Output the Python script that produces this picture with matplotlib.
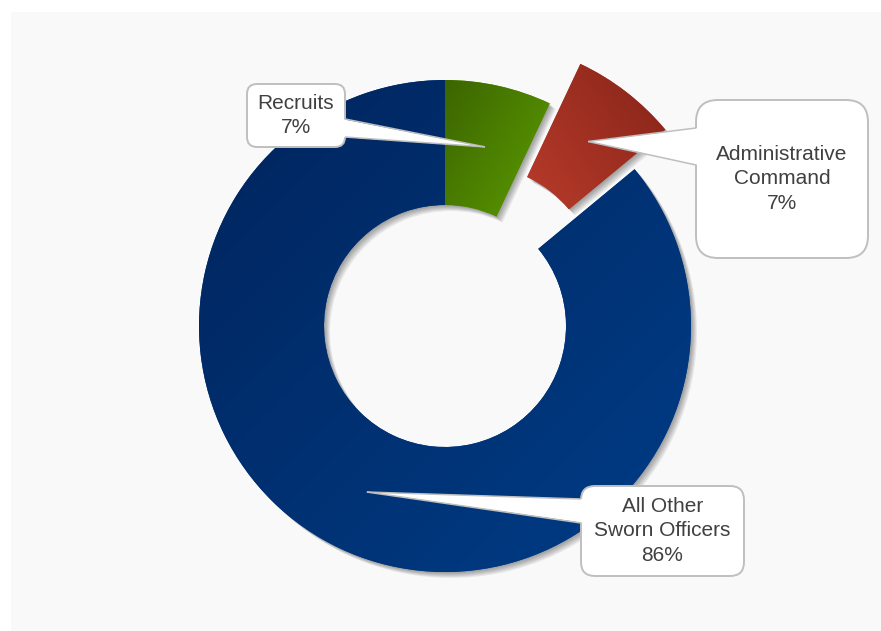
#Donut chart: personnel share by group, with callout labels
import numpy as np
import matplotlib as mpl
mpl.use('Agg')
import matplotlib.pyplot as plt
import matplotlib.patheffects as pe
from matplotlib.patches import FancyBboxPatch, Polygon, Rectangle
from matplotlib.colors import to_rgb

plt.rcParams['font.family'] = ['Liberation Sans', 'DejaVu Sans']

#data
names = ['Recruits', 'Administrative\nCommand', 'All Other\nSworn Officers']
values = [7, 7, 86]
explode = [0, 50, 0]

#colours: (dark, light, gradient direction in degrees)
grad = [('#3c6500', '#5c9c00', -30),
        ('#852418', '#b83b2b', 215),
        ('#00245c', '#003d88', -45)]

#callout boxes in pixel coords (x0, x1, y_top, y_bottom), tail base (edge x, y1, y2), corner radius
W, H = 881, 631
boxes = [(247, 345, 84, 147), (696, 868, 100, 258), (581, 744, 486, 576)]
tails = [(345, 119, 137), (696, 128, 165), (581, 499, 523)]
radii = [10, 22, 14]

fig = plt.figure(figsize=(W/100, H/100), dpi=100, facecolor='white')
ax = fig.add_axes([0, 0, 1, 1])

ax.add_patch(Rectangle((11, 0), W - 11, H - 12, fc='#f9f9f9', ec='none', zorder=0))

shadow = [pe.SimplePatchShadow(offset=(k*0.72, -k*0.72), shadow_rgbFace='black', alpha=0.065)
          for k in range(6, 0, -1)] + [pe.Normal()]

wedges, _ = ax.pie(values, startangle=90, counterclock=False, radius=246,
                   center=(445, H - 326), explode=explode,
                   colors=[g[1] for g in grad],
                   wedgeprops=dict(width=125, linewidth=0))

def gradient_fill(w, c0, c1, ang):
    ext = w.get_path().get_extents()
    x0, y0, x1, y1 = ext.x0, ext.y0, ext.x1, ext.y1
    X, Y = np.meshgrid(np.linspace(x0, x1, 200), np.linspace(y0, y1, 200))
    a = np.deg2rad(ang)
    t = (X - x0)*np.cos(a) + (Y - y0)*np.sin(a)
    t = (t - t.min())/(t.max() - t.min())
    c0, c1 = np.array(to_rgb(c0)), np.array(to_rgb(c1))
    img = c0 + t[..., None]*(c1 - c0)
    im = ax.imshow(img, extent=(x0, x1, y0, y1), origin='lower', zorder=3,
                   interpolation='bilinear', aspect='auto')
    im.set_clip_path(w)

for w, g in zip(wedges, grad):
    w.set_path_effects(shadow)
    w.set_zorder(2)
    gradient_fill(w, g[0], g[1], g[2])

#callouts
edge_c = '#bfbfbf'
for w, name, v, b, tl, rad in zip(wedges, names, values, boxes, tails, radii):
    th = np.deg2rad((w.theta1 + w.theta2)/2)
    rm = w.r - w.width/2
    tip = (w.center[0] + rm*np.cos(th), w.center[1] + rm*np.sin(th))
    x0, x1, yt, yb = b
    ax.add_patch(FancyBboxPatch((x0, H - yb), x1 - x0, yb - yt,
                                boxstyle=f'round,pad=0,rounding_size={rad}',
                                fc='white', ec=edge_c, lw=1.4, zorder=5))
    ex, ty1, ty2 = tl
    inward = 3 if ex == x0 else -3
    ax.add_patch(Polygon([(ex + inward, H - ty1), tip, (ex + inward, H - ty2)],
                         closed=True, fc='white', ec='none', zorder=6))
    for ty in (ty1, ty2):
        ax.plot([ex, tip[0]], [H - ty, tip[1]], color=edge_c, lw=1.1, zorder=7,
                solid_capstyle='butt')
    ax.text((x0 + x1)/2, H - (yt + yb)/2, f'{name}\n{v}%', ha='center', va='center',
            multialignment='center', fontsize=15, linespacing=1.36,
            color='#404040', zorder=8)

ax.set_xlim(0, W)
ax.set_ylim(0, H)
ax.set_aspect('equal')
ax.set_axis_off()

plt.savefig('out.png', dpi=100, facecolor='white')
